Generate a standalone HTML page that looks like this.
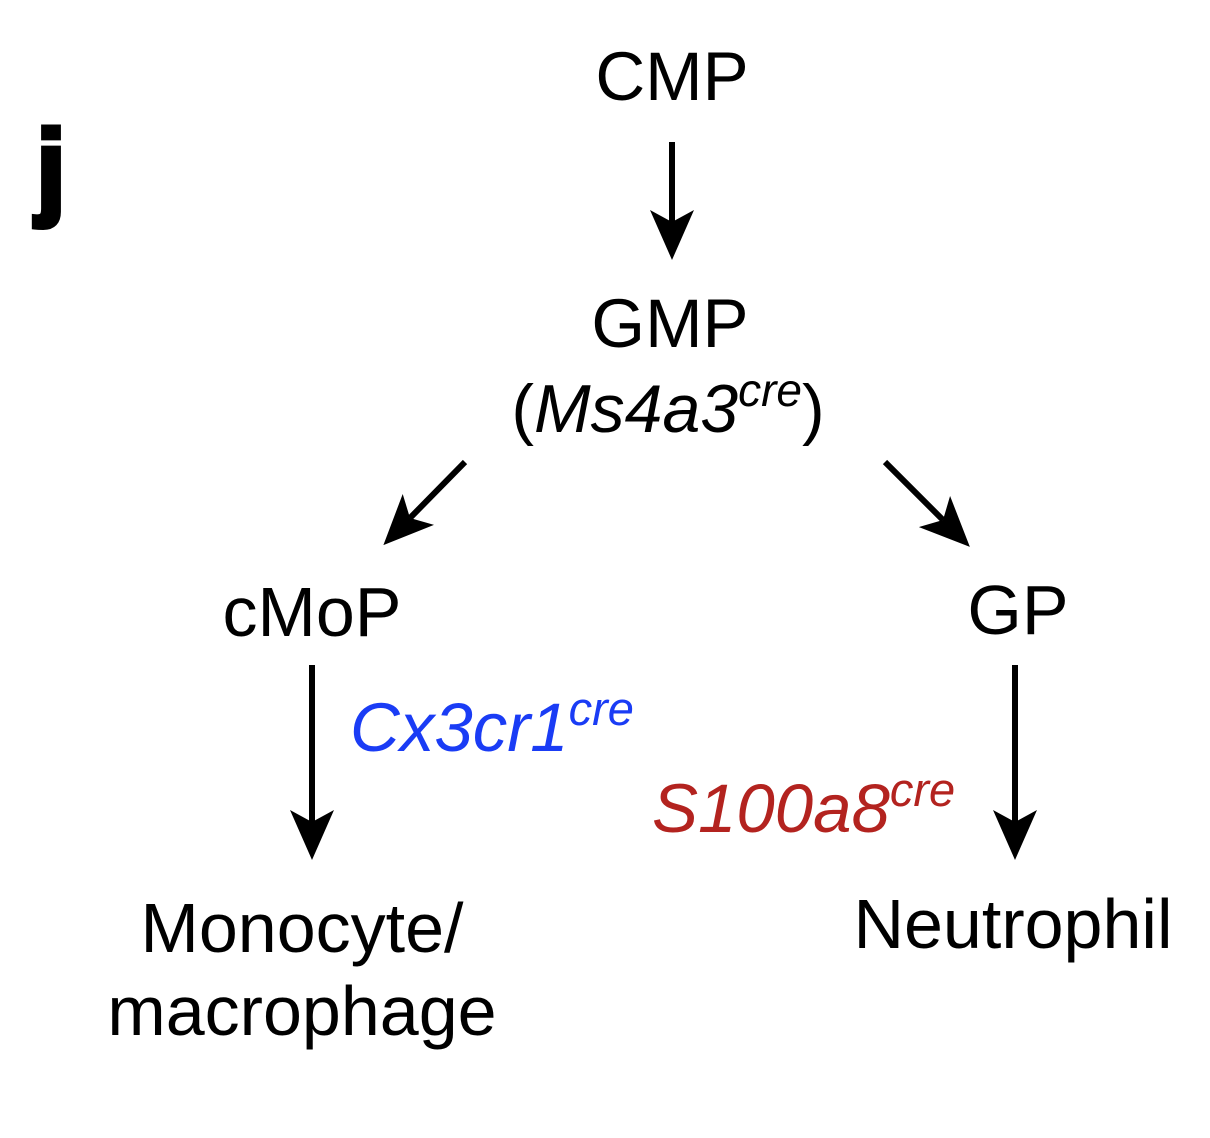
<!DOCTYPE html>
<html><head><meta charset="utf-8"><style>
html,body{margin:0;padding:0;background:#fff;}
svg{display:block;}
text{font-family:"Liberation Sans",Arial,sans-serif;}
</style></head><body>
<svg width="1210" height="1138" viewBox="0 0 1210 1138">
<defs>
<marker id="ah" viewBox="0 0 50 44" refX="12" refY="22" markerWidth="50" markerHeight="44" markerUnits="userSpaceOnUse" orient="auto">
<path d="M50,22 L0,0 L12,22 L0,44 Z" fill="#000"/>
</marker>
</defs>
<text x="36" y="205" font-size="108" font-weight="bold" stroke="#000" stroke-width="5">j</text>
<text x="672" y="100" font-size="69" text-anchor="middle">CMP</text>
<line x1="672" y1="142" x2="672" y2="222" stroke="#000" stroke-width="6" marker-end="url(#ah)"/>
<text x="670" y="347" font-size="69" text-anchor="middle">GMP</text>
<text x="668" y="432" font-size="68" text-anchor="middle">(<tspan font-style="italic">Ms4a3</tspan><tspan font-style="italic" font-size="46" dy="-26">cre</tspan><tspan dy="26">)</tspan></text>
<line x1="465" y1="462" x2="410" y2="518" stroke="#000" stroke-width="6" marker-end="url(#ah)"/>
<line x1="885" y1="462" x2="943" y2="520" stroke="#000" stroke-width="6" marker-end="url(#ah)"/>
<text x="312" y="636" font-size="70" text-anchor="middle">cMoP</text>
<text x="1018" y="634" font-size="70" text-anchor="middle">GP</text>
<line x1="312" y1="665" x2="312" y2="822" stroke="#000" stroke-width="6" marker-end="url(#ah)"/>
<line x1="1015" y1="665" x2="1015" y2="822" stroke="#000" stroke-width="6" marker-end="url(#ah)"/>
<text x="350" y="751" font-size="69" font-style="italic" fill="#1a3cf5">Cx3cr1<tspan font-size="47" dy="-26">cre</tspan></text>
<text x="652" y="832" font-size="69" font-style="italic" fill="#b3231f">S100a8<tspan font-size="47" dy="-26">cre</tspan></text>
<text x="302" y="952" font-size="70" text-anchor="middle">Monocyte/</text>
<text x="302" y="1035" font-size="70" text-anchor="middle">macrophage</text>
<text x="1013" y="948" font-size="70" text-anchor="middle">Neutrophil</text>
</svg>
</body></html>
